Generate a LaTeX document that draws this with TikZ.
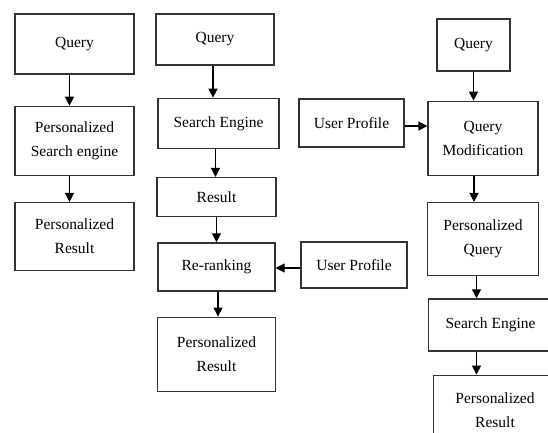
\documentclass[tikz,border=0pt]{standalone}
\usepackage{fontspec}
\setmainfont{Liberation Serif}
\usetikzlibrary{arrows.meta,positioning}
\definecolor{boxLine}{HTML}{333333}

\begin{document}
\begin{tikzpicture}[x=1pt,y=1pt,
    box/.style={draw=boxLine,line width=1.3pt,align=center,inner sep=2pt,
      font=\fontsize{15.5}{24}\selectfont},
    flow/.style={-{Triangle[length=9pt,width=9pt]},line width=1.3pt}]
      \useasboundingbox (0,0) rectangle (548,-432);
      \clip (0,0) rectangle (548,-432);

      % without user profile
      \node[box,minimum width=119pt,minimum height=60pt] (query1) at (74.5,-44) {Query};
      \node[box,minimum width=119pt,minimum height=69pt,below=31pt of query1] (pse)
        {Personalized\\Search engine};
      \node[box,minimum width=119pt,minimum height=68pt,below=26pt of pse] (pres1)
        {Personalized\\Result};

      % re-ranking
      \node[box,minimum width=118pt,minimum height=51pt] (query2) at (215,-39.5) {Query};
      \node[box,minimum width=121pt,minimum height=50pt,below=32pt of query2,xshift=3.5pt]
        (engine2) {Search Engine};
      \node[box,minimum width=119pt,minimum height=39pt,below=28pt of engine2,xshift=-2pt]
        (result2) {Result};
      \node[box,minimum width=117pt,minimum height=48pt,below=25pt of result2] (rerank)
        {Re-ranking};
      \node[box,minimum width=118pt,minimum height=74pt,below=25pt of rerank] (pres2)
        {Personalized\\Result};
      \node[box,minimum width=106pt,minimum height=46pt] (profile2) at (354,-265)
        {User Profile};

      % query modification
      \node[box,minimum width=73pt,minimum height=52pt] (query3) at (473.5,-45) {Query};
      \node[box,minimum width=110pt,minimum height=74pt,below=29pt of query3,xshift=9.5pt]
        (modif) {Query\\Modification};
      \node[box,minimum width=105pt,minimum height=48pt] (profile3) at (351.5,-123)
        {User Profile};
      \node[box,minimum width=111pt,minimum height=73pt,below=26pt of modif] (pquery)
        {Personalized\\Query};
      \node[box,minimum width=124pt,minimum height=52pt,below=22pt of pquery,xshift=7.5pt]
        (engine3) {Search Engine};
      \node[box,minimum width=123pt,minimum height=70pt,below=23pt of engine3,xshift=4.5pt]
        (pres3) {Personalized\\Result};

      \draw[flow] ([xshift=-5pt]query1.south) -- ([xshift=-5pt]pse.north);
      \draw[flow] ([xshift=-5pt]pse.south) -- ([xshift=-5pt]pres1.north);

      \draw[flow] ([xshift=-2pt]query2.south) -- ([xshift=-2pt]query2.south |- engine2.north);
      \draw[flow] ([xshift=-3pt]engine2.south) -- ([xshift=-3pt]engine2.south |- result2.north);
      \draw[flow] (result2.south) -- (result2.south |- rerank.north);
      \draw[flow] ([xshift=1.5pt]rerank.south) -- ([xshift=1.5pt]pres2.north);
      \draw[flow] ([yshift=-3pt]profile2.west) -- ([yshift=-3pt]rerank.east |- profile2.west);

      \draw[flow] (query3.south) -- (query3.south |- modif.north);
      \draw[flow] ([yshift=-3pt]profile3.east) -- ([yshift=-3pt]modif.west |- profile3.east);
      \draw[flow] ([xshift=-9pt]modif.south) -- ([xshift=-9pt]modif.south |- pquery.north);
      \draw[flow] ([xshift=-6.5pt]pquery.south) -- ([xshift=-6.5pt]pquery.south |- engine3.north);
      \draw[flow] ([xshift=-14pt]engine3.south) -- ([xshift=-14pt]engine3.south |- pres3.north);
\end{tikzpicture}
\end{document}
